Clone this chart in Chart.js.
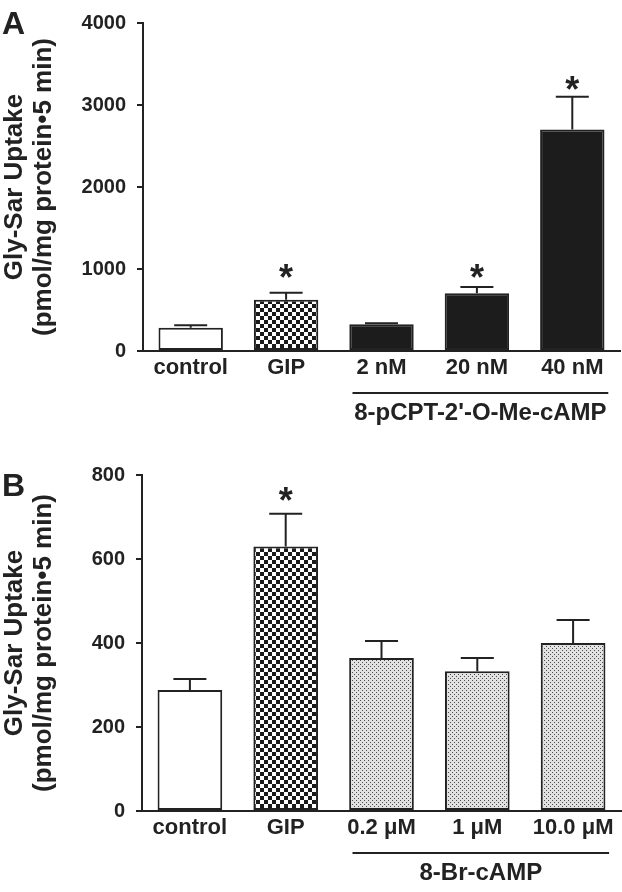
<!DOCTYPE html>
<html>
<head>
<meta charset="utf-8">
<script src="https://cdn.jsdelivr.net/npm/chart.js@4.4.0/dist/chart.umd.min.js"></script>
<style>
  body { margin: 0; background: #fff; width: 622px; height: 892px; position: relative; overflow: hidden; }
  canvas { position: absolute; left: 0; }
  #chartA { top: 0; }
  #chartB { top: 440px; }
  .panel { position: absolute; left: 2px; line-height: 1; font: bold 32px "Liberation Sans", Arial, sans-serif; color: #222; }
</style>
</head>
<body>
<canvas id="chartA" width="622" height="440"></canvas>
<canvas id="chartB" width="622" height="452"></canvas>
<div class="panel" style="top:5px">A</div>
<div class="panel" style="top:467px">B</div>
<script>
// Panel A data
const labelsA = ['control', 'GIP', '2 nM', '20 nM', '40 nM'];
const meansA = [285, 625, 325, 705, 2700];
const semA = [30, 85, 12, 75, 400];
const starsA = [null, 990, null, 990, 3280];
const ticksA = [0, 1000, 2000, 3000, 4000];
const groupA = "8-pCPT-2'-O-Me-cAMP";

// Panel B data
const labelsB = ['control', 'GIP', '0.2 \u03bcM', '1 \u03bcM', '10.0 \u03bcM'];
const meansB = [288, 630, 364, 333, 400];
const semB = [26, 78, 41, 31, 55];
const starsB = [null, 756, null, null, null];
const ticksB = [0, 200, 400, 600, 800];
const groupB = '8-Br-cAMP';

const FONT = '"Liberation Sans", Arial, sans-serif';
const INK = '#222';

function checker(ctx, size) {
    const c = document.createElement('canvas');
    c.width = c.height = size * 2;
    const g = c.getContext('2d');
    g.fillStyle = '#fff';
    g.fillRect(0, 0, size * 2, size * 2);
    g.fillStyle = '#1a1a1a';
    g.fillRect(0, 0, size, size);
    g.fillRect(size, size, size, size);
    return ctx.createPattern(c, 'repeat');
}

function stipple(ctx) {
    const c = document.createElement('canvas');
    c.width = c.height = 4;
    const g = c.getContext('2d');
    g.fillStyle = '#e2e2e2';
    g.fillRect(0, 0, 4, 4);
    g.fillStyle = '#4a4a4a';
    g.fillRect(0, 0, 1, 1);
    g.fillRect(2, 2, 1, 1);
    return ctx.createPattern(c, 'repeat');
}

// error bars (upper half only), asterisks and the group bracket
const annotate = {
    id: 'annotate',
    afterDatasetsDraw(chart, args, opts) {
        const { ctx, chartArea, scales: { x, y } } = chart;
        const meta = chart.getDatasetMeta(0);
        ctx.save();
        ctx.strokeStyle = INK;
        ctx.fillStyle = INK;
        ctx.lineWidth = 2;
        meta.data.forEach((bar, i) => {
            const top = y.getPixelForValue(opts.means[i] + opts.sem[i]);
            ctx.beginPath();
            ctx.moveTo(bar.x, bar.y);
            ctx.lineTo(bar.x, top);
            ctx.moveTo(bar.x - 16.5, top);
            ctx.lineTo(bar.x + 16.5, top);
            ctx.stroke();
            if (opts.stars[i] != null) {
                ctx.font = 'bold 36px ' + FONT;
                ctx.textAlign = 'center';
                ctx.textBaseline = 'alphabetic';
                ctx.fillText('*', bar.x, y.getPixelForValue(opts.stars[i]) + 20);
            }
        });

        const x1 = x.getPixelForValue(2) - 29;
        const x2 = x.getPixelForValue(4) + 36;
        const ly = chartArea.bottom + 42;
        ctx.beginPath();
        ctx.moveTo(x1, ly);
        ctx.lineTo(x2, ly);
        ctx.stroke();
        ctx.font = 'bold 24px ' + FONT;
        ctx.textAlign = 'center';
        ctx.textBaseline = 'alphabetic';
        ctx.fillText(opts.group, (x1 + x2) / 2, chartArea.bottom + 69);
        ctx.restore();
    }
};

function makeChart(id, labels, means, sem, stars, ticks, group, fills, box) {
    const ctx = document.getElementById(id).getContext('2d');
    return new Chart(ctx, {
        type: 'bar',
        data: {
            labels: labels,
            datasets: [{
                data: means,
                backgroundColor: fills,
                borderColor: INK,
                borderWidth: 2,
                borderSkipped: false,
                barPercentage: 0.675,
                categoryPercentage: 1
            }]
        },
        options: {
            responsive: false,
            devicePixelRatio: 1,
            animation: false,
            layout: { padding: { top: box.top, right: box.right, left: 0, bottom: 0 } },
            plugins: {
                legend: { display: false },
                tooltip: { enabled: false },
                annotate: { means: means, sem: sem, stars: stars, group: group }
            },
            scales: {
                x: {
                    grid: { display: false, drawTicks: false },
                    border: { display: true, color: INK, width: 2 },
                    ticks: {
                        color: INK,
                        font: { family: FONT, size: 22, weight: 'bold', lineHeight: 1.2 },
                        padding: 4,
                        maxRotation: 0,
                        autoSkip: false
                    },
                    afterFit(s) { s.height = box.xh; }
                },
                y: {
                    min: ticks[0],
                    max: ticks[ticks.length - 1],
                    afterBuildTicks(s) { s.ticks = ticks.map(v => ({ value: v })); },
                    ticks: {
                        color: INK,
                        font: { family: FONT, size: 20, weight: 'bold' },
                        padding: 11,
                        callback: v => String(v)
                    },
                    grid: { drawOnChartArea: false, drawTicks: true, tickLength: 6, color: INK, lineWidth: 2 },
                    border: { color: INK, width: 2 },
                    title: {
                        display: true,
                        text: ['Gly-Sar Uptake', '(pmol/mg protein\u20225 min)'],
                        color: INK,
                        font: { family: FONT, size: 26, weight: 'bold', lineHeight: 1.12 },
                        padding: { top: 0, bottom: 0 }
                    },
                    afterFit(s) { s.width = box.yw; }
                }
            }
        },
        plugins: [annotate]
    });
}

const ctxA = document.getElementById('chartA').getContext('2d');
const ctxB = document.getElementById('chartB').getContext('2d');
const black = '#1c1c1c';

makeChart('chartA', labelsA, meansA, semA, starsA, ticksA, groupA,
    ['#fff', checker(ctxA, 4), black, black, black],
    { top: 12, right: 2, xh: 89, yw: 143 });

makeChart('chartB', labelsB, meansB, semB, starsB, ticksB, groupB,
    ['#fff', checker(ctxB, 4), stipple(ctxB), stipple(ctxB), stipple(ctxB)],
    { top: 35, right: 1, xh: 81, yw: 142 });
</script>
</body>
</html>
